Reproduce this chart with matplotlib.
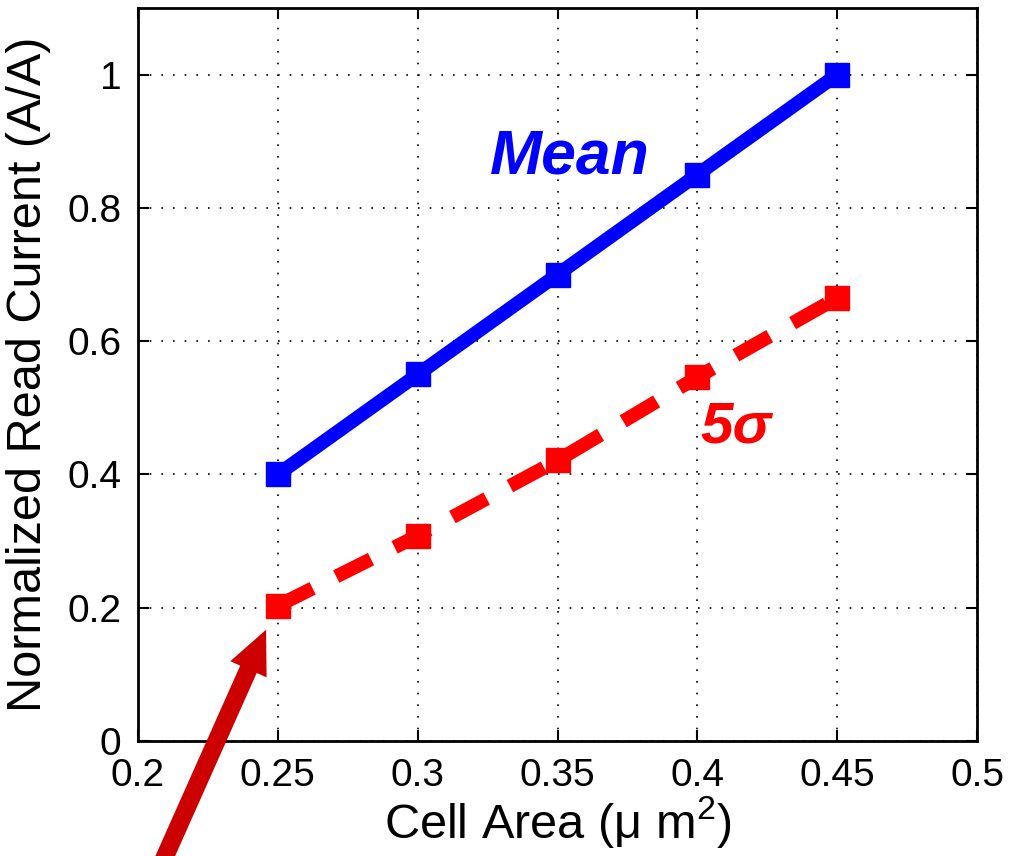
import numpy as np
import matplotlib
matplotlib.use('Agg')
import matplotlib.pyplot as plt

plt.rcParams['font.family'] = 'Liberation Sans'
plt.rcParams['mathtext.fontset'] = 'custom'
plt.rcParams['mathtext.rm'] = 'Liberation Sans'
plt.rcParams['mathtext.it'] = 'Liberation Sans:italic'

# data
cell_area = [0.25, 0.30, 0.35, 0.40, 0.45]
mean_current = [0.40, 0.55, 0.70, 0.85, 1.00]
sigma5_current = [0.203, 0.308, 0.421, 0.546, 0.665]
x_ticks = [0.2, 0.25, 0.3, 0.35, 0.4, 0.45, 0.5]
x_tick_labels = ['0.2', '0.25', '0.3', '0.35', '0.4', '0.45', '0.5']
y_ticks = [0, 0.2, 0.4, 0.6, 0.8, 1.0]
y_tick_labels = ['0', '0.2', '0.4', '0.6', '0.8', '1']

fig = plt.figure(figsize=(10.13, 8.56), dpi=100)
ax = fig.add_axes([138/1013, 1 - 741/856, (977-138)/1013, (741-8)/856])

ax.plot(cell_area, mean_current, color='#0000ff', linewidth=10,
        marker='s', markersize=17, solid_capstyle='butt')
ax.plot(cell_area, sigma5_current, color='#ff0000', linewidth=10,
        linestyle=(0, (2.8, 1.9)), marker='s', markersize=17)

ax.text(0.3545, 0.877, 'Mean', color='#0000ff', fontsize=45,
        fontweight='bold', fontstyle='italic', ha='center', va='center')
ax.text(0.414, 0.47, '5σ', color='#ff0000', fontsize=42,
        fontweight='bold', fontstyle='italic', ha='center', va='center',
        family=['Liberation Sans', 'DejaVu Sans'])

# arrow pointing at the first 5-sigma point
ax.annotate('', xy=(0.2458, 0.167), xycoords='data',
            xytext=(150/1013, -0.04), textcoords='figure fraction',
            arrowprops=dict(arrowstyle='simple,head_length=1.2,head_width=1.1,tail_width=0.5',
                            color='#cc0000', mutation_scale=26, lw=0,
                            shrinkA=0, shrinkB=0),
            annotation_clip=False)

ax.set_xlim(0.2, 0.5)
ax.set_ylim(0, 1.1)
ax.set_xticks(x_ticks)
ax.set_xticklabels(x_tick_labels)
ax.set_yticks(y_ticks)
ax.set_yticklabels(y_tick_labels)
ax.tick_params(direction='in', top=True, right=True, length=8, width=1.5,
               labelsize=28, pad=12)
ax.grid(True, color='black', linestyle=(0, (1, 6)), linewidth=1.2)
for s in ax.spines.values():
    s.set_linewidth(2)

ax.set_xlabel('Cell Area (μ m$^2$)', fontsize=35, labelpad=0)
ax.set_ylabel('Normalized Read Current (A/A)', fontsize=35, labelpad=12)

fig.savefig('out.png', dpi=100)
